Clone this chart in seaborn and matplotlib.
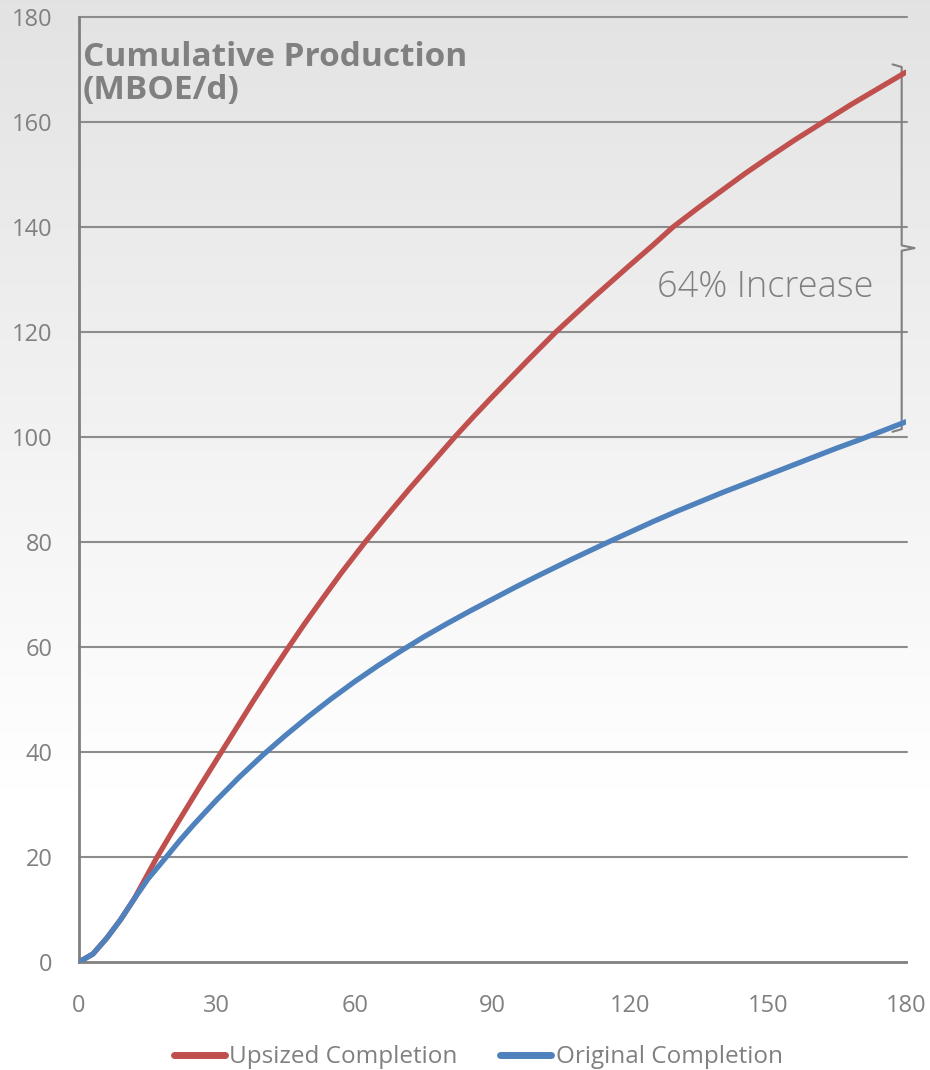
import matplotlib
matplotlib.use('Agg')
import matplotlib.pyplot as plt
import seaborn as sns
import pandas as pd
import numpy as np

# Данные
upsized_days = [0, 3, 6, 9, 12, 15, 17, 20, 23, 26, 29, 31, 35, 38, 42, 45.5, 49, 53, 57,
                62.3, 67, 72, 77, 81.8, 86, 90, 94, 98, 103.8, 108, 112, 116, 120,
                125, 129.3, 135, 140, 145, 150, 156, 162, 168, 174, 180]
upsized_prod = [0, 1.5, 4.5, 8, 12, 16.8, 20, 24.4, 28.7, 33, 37.2, 40, 45.6, 49.8, 55.2,
                59.8, 64.3, 69.2, 74, 80, 85, 90.2, 95.2, 100, 104, 107.7, 111.3, 114.9,
                120, 123.4, 126.6, 129.7, 132.8, 136.6, 140, 143.8, 147, 150.2, 153.2,
                156.7, 160, 163.3, 166.4, 169.5]
original_days = [0, 3, 6, 9, 12, 15, 19, 22, 25, 30, 35, 40, 45, 50, 55, 60, 65, 70,
                 75, 80, 85, 90, 95, 100, 107, 114.5, 120, 125, 130, 135, 140, 145, 150,
                 155, 160, 165, 170, 175, 180]
original_prod = [0, 1.5, 4.5, 8, 12, 15.8, 20, 23.2, 26.2, 30.9, 35.3, 39.4, 43.2, 46.8,
                 50.2, 53.4, 56.4, 59.2, 61.9, 64.4, 66.8, 69.1, 71.4, 73.6, 76.6, 79.7,
                 81.9, 83.9, 85.8, 87.6, 89.4, 91.1, 92.8, 94.5, 96.2, 97.9, 99.5, 101.2,
                 102.9]
series_names = ['Upsized Completion', 'Original Completion']
x_ticks = [0, 30, 60, 90, 120, 150, 180]
y_ticks = list(range(0, 181, 20))
bracket_top, bracket_mid, bracket_bottom = 171, 136, 101

df = pd.concat([
    pd.DataFrame({'day': upsized_days, 'prod': upsized_prod, 'series': series_names[0]}),
    pd.DataFrame({'day': original_days, 'prod': original_prod, 'series': series_names[1]}),
])

sns.set_style('white')
plt.rcParams['font.family'] = ['Open Sans', 'DejaVu Sans']
grey = '#808080'

fig = plt.figure(figsize=(9.3, 10.7), dpi=100)

# фон с градиентом
bg = fig.add_axes([0, 0, 1, 1], zorder=-1)
grad = np.linspace(0.89, 1.0, 256)
grad = np.concatenate([grad, np.ones(90)])[:, None]
bg.imshow(np.dstack([grad, grad, grad]), aspect='auto', extent=[0, 1, 0, 1],
          origin='upper')
bg.axis('off')

ax = fig.add_axes([0.085, 0.101, 0.889, 0.883])
ax.patch.set_alpha(0)

sns.lineplot(data=df, x='day', y='prod', hue='series', ax=ax,
             palette={series_names[0]: '#c0504d', series_names[1]: '#4f81bd'},
             linewidth=3.8, sort=False, estimator=None, zorder=3)

ax.set_xlim(0, 180)
ax.set_ylim(0, 180)
ax.set_xticks(x_ticks)
ax.set_yticks(y_ticks)
ax.set_xlabel('')
ax.set_ylabel('')
ax.tick_params(axis='both', length=0, labelsize=17, labelcolor=grey)
ax.tick_params(axis='y', pad=19)
ax.tick_params(axis='x', pad=23)

for y in y_ticks[1:]:
    ax.plot([0, 180.3], [y, y], color='#8c8c8c', lw=1.5, zorder=1, clip_on=False)
for side in ['top', 'right']:
    ax.spines[side].set_visible(False)
ax.spines['left'].set_color(grey)
ax.spines['left'].set_linewidth(2)
ax.spines['bottom'].set_color(grey)
ax.spines['bottom'].set_linewidth(2)

ax.text(0.8, 175.4, 'Cumulative Production\n(MBOE/d)', fontsize=24, fontweight='bold',
        color=grey, va='top', ha='left', linespacing=1.0)
ax.text(149.5, 128.5, '64% Increase', fontsize=26, color=grey, ha='center', va='center',
        fontweight='light')

# фигурная скобка
bx = 179.1
ax.plot([bx - 2, bx, bx, bx + 2.8, bx, bx, bx - 2],
        [bracket_top, bracket_top - 0.5, bracket_mid + 0.5, bracket_mid,
         bracket_mid - 0.5, bracket_bottom + 0.5, bracket_bottom],
        color=grey, lw=1.5, clip_on=False, zorder=2)

leg = ax.legend(loc='center', bbox_to_anchor=(0.483, -0.101), ncol=2, frameon=False,
                fontsize=17.5, handlelength=2.1, handletextpad=0.2, columnspacing=1.75)
for t in leg.get_texts():
    t.set_color(grey)
for h in leg.get_lines():
    h.set_linewidth(5)
    h.set_solid_capstyle('round')

plt.savefig('out.png', dpi=100)
